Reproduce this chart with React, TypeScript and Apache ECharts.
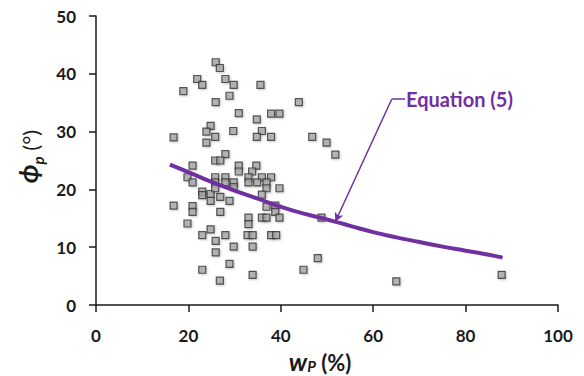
import React, { useEffect, useRef } from "react";
import * as echarts from "echarts";

const xTicks = [0, 20, 40, 60, 80, 100];
const yTicks = [0, 10, 20, 30, 40, 50];

// Measured points: [w_P (%), phi_p (deg)]
const measuredPoints: number[][] = [
  [25.9, 42.0], [26.8, 41.0], [21.9, 39.1], [23.0, 38.1], [28.0, 39.1],
  [29.8, 38.1], [35.6, 38.1], [18.9, 37.0], [28.9, 36.2], [25.9, 35.1],
  [43.9, 35.1], [30.9, 33.2], [37.9, 33.1], [39.7, 33.1], [34.8, 32.1],
  [24.8, 31.0], [23.9, 30.0], [29.7, 30.1], [35.9, 30.1], [25.8, 29.1],
  [16.8, 29.0], [34.8, 29.1], [37.9, 29.1], [46.8, 29.1], [23.9, 28.1],
  [49.9, 28.1], [51.8, 26.0], [28.0, 26.1], [25.8, 25.0], [26.9, 25.0],
  [20.9, 24.1], [30.9, 24.1], [34.7, 24.1], [30.9, 23.1], [33.8, 23.1],
  [19.8, 22.1], [25.8, 22.1], [28.0, 22.1], [33.0, 22.1], [35.9, 22.1],
  [37.9, 22.1], [20.9, 21.2], [25.8, 21.2], [28.0, 21.2], [29.8, 21.2],
  [29.8, 20.4], [33.0, 21.2], [34.9, 21.2], [36.9, 21.2], [36.9, 20.2],
  [39.7, 20.2], [35.9, 19.1], [23.0, 19.6], [23.0, 19.0], [24.8, 19.2],
  [24.8, 18.0], [26.9, 18.7], [28.9, 18.0], [25.8, 20.2], [16.8, 17.2],
  [20.9, 17.1], [20.9, 16.1], [26.9, 16.1], [36.9, 17.0], [38.8, 17.2],
  [38.8, 16.1], [33.0, 15.1], [35.9, 15.1], [36.9, 15.1], [39.7, 15.1],
  [48.8, 15.1], [19.8, 14.1], [33.0, 14.0], [24.8, 13.1], [23.0, 12.1],
  [28.0, 12.1], [32.8, 12.1], [33.9, 12.1], [37.9, 12.1], [39.0, 12.1],
  [25.9, 11.1], [29.8, 10.1], [33.9, 10.1], [25.9, 9.1], [28.9, 7.1],
  [48.0, 8.1], [23.0, 6.1], [44.9, 6.1], [33.9, 5.2], [26.8, 4.2],
  [65.0, 4.1], [87.8, 5.2],
];

// Equation (5) curve
const curveX = [16, 20, 25, 30, 35, 40, 45, 50, 55, 60, 65, 70, 75, 80, 85, 88];
const curveY = [24.3, 23.0, 21.3, 19.8, 18.4, 17.0, 15.8, 14.8, 13.7, 12.6, 11.7, 10.9, 10.1, 9.4, 8.7, 8.2];

// Annotation anchor points (data coords)
const arrowTip = [51.8, 14.4];
const arrowElbow = [64.0, 35.6];
const labelStart = [66.9, 35.6];
const annotationText = "Equation (5)";

const PURPLE = "#7030A0";
const FONT = "Lato";

export default function App() {
  const ref = useRef<HTMLDivElement>(null);
  useEffect(() => {
    if (!ref.current) return;
    const chart = echarts.init(ref.current, null, { renderer: "svg" });
    const axisCommon = {
      axisLine: { show: true, lineStyle: { color: "#1a1a1a", width: 1.5 } },
      axisTick: { show: true, inside: false, length: 7, lineStyle: { color: "#1a1a1a", width: 1.5 } },
      splitLine: { show: false },
    };
    chart.setOption({
      animation: false,
      backgroundColor: "#ffffff",
      grid: { left: 96, right: 26, top: 16, bottom: 71, containLabel: false, outerBoundsMode: "none" },
      xAxis: {
        type: "value",
        min: xTicks[0],
        max: xTicks[xTicks.length - 1],
        interval: 20,
        ...axisCommon,
        axisLabel: {
          margin: 22,
          color: "#1a1a1a",
          fontFamily: FONT,
          fontWeight: "bold",
          fontSize: 17,
        },
        name: "{w|w}{sub|P}{n| (%)}",
        nameLocation: "middle",
        nameGap: 39,
        nameTextStyle: {
          fontFamily: FONT,
          color: "#1a1a1a",
          padding: [0, 14, 0, 0],
          rich: {
            w: { fontFamily: FONT, fontSize: 25, fontWeight: "bold", fontStyle: "italic", color: "#1a1a1a", lineHeight: 24, verticalAlign: "bottom" },
            sub: { fontFamily: FONT, fontSize: 15, fontWeight: "bold", fontStyle: "italic", color: "#1a1a1a", lineHeight: 12, verticalAlign: "bottom" },
            n: { fontFamily: FONT, fontSize: 22, fontWeight: "bold", color: "#1a1a1a", lineHeight: 24, verticalAlign: "bottom" },
          },
        },
      },
      yAxis: {
        type: "value",
        min: yTicks[0],
        max: yTicks[yTicks.length - 1],
        interval: 10,
        ...axisCommon,
        axisLabel: {
          margin: 20,
          color: "#1a1a1a",
          fontFamily: FONT,
          fontWeight: "bold",
          fontSize: 17,
        },
        name: "{phi|ϕ}{sub|p}{n| (°)}",
        nameLocation: "middle",
        nameRotate: 90,
        nameGap: 52,
        nameTextStyle: {
          fontFamily: FONT,
          color: "#1a1a1a",
          padding: [0, 0, 0, 8],
          rich: {
            phi: { fontFamily: FONT, fontSize: 26, fontWeight: "bold", fontStyle: "italic", color: "#1a1a1a", lineHeight: 30, verticalAlign: "bottom" },
            sub: { fontFamily: FONT, fontSize: 15, fontWeight: "bold", fontStyle: "italic", color: "#1a1a1a", lineHeight: 30, verticalAlign: "bottom", padding: [0, 0, -4, 0] },
            n: { fontFamily: FONT, fontSize: 22, fontWeight: "normal", color: "#1a1a1a", lineHeight: 30, verticalAlign: "bottom" },
          },
        },
      },
      series: [
        {
          type: "scatter",
          name: "Measured",
          data: measuredPoints,
          symbol: "rect",
          symbolSize: 7,
          itemStyle: {
            color: "#A6A6A6",
            borderColor: "#333333",
            borderWidth: 1.2,
            shadowColor: "rgba(0,0,0,0.25)",
            shadowBlur: 2,
            shadowOffsetX: 1,
            shadowOffsetY: 1,
          },
          z: 2,
        },
        {
          type: "line",
          name: "Equation (5)",
          data: curveX.map((x, i) => [x, curveY[i]]),
          smooth: true,
          showSymbol: false,
          symbol: "none",
          lineStyle: { color: PURPLE, width: 4 },
          z: 3,
          markLine: {
            silent: true,
            symbol: ["arrow", "none"],
            symbolSize: [7, 9],
            lineStyle: { color: PURPLE, width: 1.5, type: "solid" },
            label: { show: false },
            emphasis: { disabled: true },
            data: [
              [
                { coord: arrowTip, symbol: "arrow" },
                { coord: arrowElbow, symbol: "none" },
              ],
              [
                { coord: arrowElbow, symbol: "none" },
                {
                  coord: labelStart,
                  symbol: "none",
                  label: {
                    show: true,
                    position: "end",
                    distance: 1,
                    formatter: annotationText,
                    color: PURPLE,
                    fontFamily: FONT,
                    fontWeight: "bold",
                    fontSize: 20,
                  },
                },
              ],
            ],
          },
        },
      ],
    });
    return () => chart.dispose();
  }, []);
  return <div ref={ref} style={{ width: 584, height: 376, position: "absolute", left: 0, top: 0 }} />;
}
